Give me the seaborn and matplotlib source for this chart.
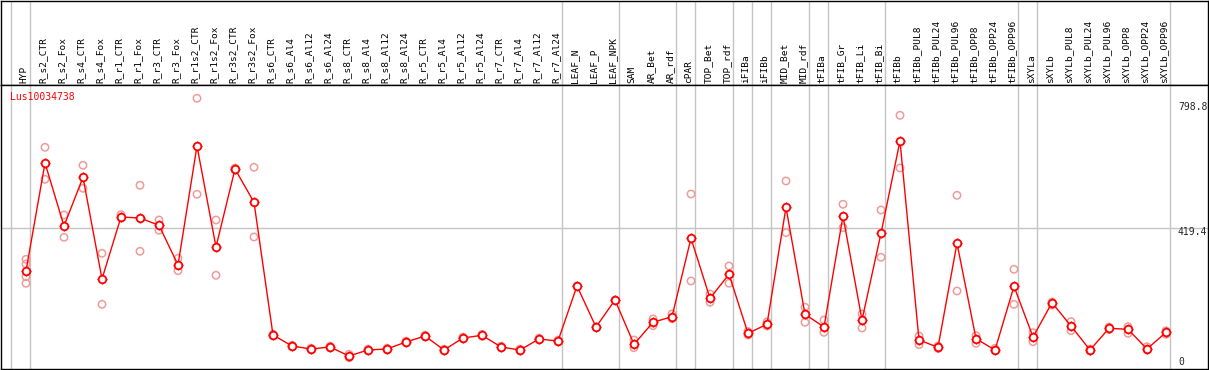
import matplotlib
matplotlib.use("Agg")
import matplotlib.pyplot as plt
import seaborn as sns
import pandas as pd

sns.set_style("white")
plt.rcParams["font.family"] = ["DejaVu Sans Mono", "DejaVu Sans"]

gene = "Lus10034738"

samples = [
    "HYP", "R_s2_CTR", "R_s2_Fox", "R_s4_CTR", "R_s4_Fox", "R_r1_CTR", "R_r1_Fox",
    "R_r3_CTR", "R_r3_Fox", "R_r1s2_CTR", "R_r1s2_Fox", "R_r3s2_CTR", "R_r3s2_Fox",
    "R_s6_CTR", "R_s6_Al4", "R_s6_Al12", "R_s6_Al24", "R_s8_CTR", "R_s8_Al4",
    "R_s8_Al12", "R_s8_Al24", "R_r5_CTR", "R_r5_Al4", "R_r5_Al12", "R_r5_Al24",
    "R_r7_CTR", "R_r7_Al4", "R_r7_Al12", "R_r7_Al24", "LEAF_N", "LEAF_P", "LEAF_NPK",
    "SAM", "AR_Bet", "AR_rdf", "cPAR", "TOP_Bet", "TOP_rdf", "iFIBa", "iFIBb",
    "MID_Bet", "MID_rdf", "tFIBa", "tFIB_Gr", "tFIB_Li", "tFIB_Bi", "tFIBb",
    "tFIBb_PUL8", "tFIBb_PUL24", "tFIBb_PUL96", "tFIBb_OPP8", "tFIBb_OPP24",
    "tFIBb_OPP96", "sXYLa", "sXYLb", "sXYLb_PUL8", "sXYLb_PUL24", "sXYLb_PUL96",
    "sXYLb_OPP8", "sXYLb_OPP24", "sXYLb_OPP96",
]

means = [
    293.6, 609.5, 425.2, 567.7, 270.2, 451.6, 448.6, 427.3, 311.2, 659.2, 363.8,
    592.0, 494.6, 106.4, 74.3, 65.5, 71.4, 45.0, 62.6, 65.5, 86.0, 103.5, 62.6,
    97.7, 105.6, 71.4, 62.6, 94.7, 88.9, 249.8, 129.8, 208.8, 79.2, 143.6, 160.0,
    389.3, 213.8, 284.0, 111.4, 137.8, 479.9, 167.0, 129.8, 454.5, 150.3, 403.9,
    673.9, 91.8, 70.5, 374.7, 95.6, 62.6, 248.9, 100.6, 200.9, 132.8, 62.6, 126.0,
    123.1, 65.5, 114.3,
]

replicates = [
    [327.9, 314.1, 277.0, 257.7], [655.4, 561.8], [457.4, 392.2], [602.8, 535.5],
    [345.4, 196.2], [458.3, 448.6], [544.3, 351.3], [442.8, 412.7], [330.8, 294.5],
    [798.8, 518.0], [442.8, 281.1], [594.9, 589.0], [597.0, 393.1],
    [104.0, 108.8], [72.0, 76.6], [63.0, 68.0], [69.0, 73.8], [40.0, 50.0],
    [60.0, 65.2], [63.0, 68.0], [83.5, 88.5], [101.0, 106.0], [60.0, 65.2],
    [95.2, 100.2], [103.0, 108.2], [69.0, 73.8], [60.0, 65.2], [92.2, 97.2],
    [86.4, 91.4], [249.8], [129.8], [208.8], [91.8, 69.3], [153.3, 133.7],
    [167.9, 154.1], [518.8, 264.4], [226.4, 202.1], [308.3, 257.7], [116.7, 106.4],
    [144.5, 132.8], [556.9, 405.7], [187.5, 143.6], [150.3, 114.3], [488.7, 420.3],
    [167.9, 127.0], [472.0, 333.7], [749.0, 594.9], [103.5, 78.1], [74.3, 67.0],
    [515.0, 235.1], [104.4, 82.2], [67.5, 60.5], [298.6, 196.2], [113.2, 86.8],
    [202.7, 193.9], [145.6, 119.2], [65.5, 59.6], [129.8, 122.5], [130.7, 111.4],
    [72.2, 62.6], [118.6, 108.4],
]

# group boundaries: separator drawn after these sample indices
group_ends = [-1, 0, 28, 31, 34, 35, 37, 38, 39, 41, 42, 45, 52, 53, 60]

y_max, y_mid, y_min_label = 798.8, 419.4, 0

xpos = list(range(len(samples)))
mean_df = pd.DataFrame({"x": xpos, "value": means})
rep_df = pd.DataFrame(
    [(i, v) for i, reps in enumerate(replicates) for v in reps],
    columns=["x", "value"],
)

W, H = 1209, 370
fig = plt.figure(figsize=(W / 100, H / 100), dpi=100)
head = fig.add_axes([1 / W, (H - 85) / H, 1207 / W, 84.5 / H])
ax = fig.add_axes([1 / W, 1 / H, 1207 / W, 284 / H], sharex=head)

x0 = (1 - 26) / 19
x1 = (1208 - 26) / 19
ax.set_xlim(x0, x1)
ax.set_ylim(7.0, 837.6)
head.set_ylim(0, 1)

for a in (head, ax):
    a.set_xticks([])
    a.set_yticks([])
    for s in a.spines.values():
        s.set_color("black")
        s.set_linewidth(1.0)
    for g in group_ends:
        a.axvline(g + 0.21, color="#c4c4c4", lw=1, zorder=0)

ax.axhline(y_mid, color="#c4c4c4", lw=1, zorder=0)

# replicate points
sns.scatterplot(data=rep_df, x="x", y="value", ax=ax, marker="o", s=28,
                facecolor="none", edgecolor="#f09a9a", linewidth=1.1, zorder=2,
                legend=False)
# small tick crosses behind the mean circles
sns.scatterplot(data=mean_df, x="x", y="value", ax=ax, marker="+", s=55,
                color="red", linewidth=0.9, zorder=3, legend=False)
sns.lineplot(data=mean_df, x="x", y="value", ax=ax, color="red", lw=1,
             marker="o", markersize=5.5, markerfacecolor="white",
             markeredgecolor="red", markeredgewidth=1.3, zorder=4)
ax.set_xlabel("")
ax.set_ylabel("")

for i, name in enumerate(samples):
    head.text(i - 0.1, 0.025, name, rotation=90, ha="center", va="bottom",
              fontsize=6.8, color="black")

ax.text(-0.84, 802, gene, color="red", fontsize=7, ha="left", va="center")

xt = (1178 - 26) / 19
ax.text(xt, 774, f"{y_max}", fontsize=7, ha="left", va="center")
ax.text(xt, 407, f"{y_mid}", fontsize=7, ha="left", va="center")
ax.text(xt, 28, f"{y_min_label}", fontsize=7, ha="left", va="center")

fig.savefig("out.png", dpi=100)
plt.close(fig)
